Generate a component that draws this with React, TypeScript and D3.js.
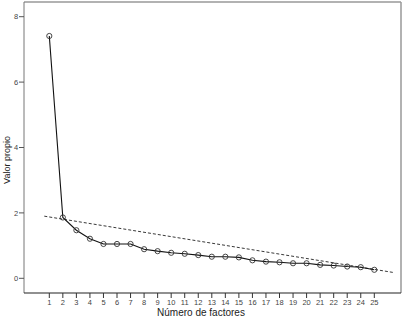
import React from "react";
import * as d3 from "d3";

const factors = d3.range(1, 26);
const eigenvalues = [7.41, 1.86, 1.47, 1.21, 1.05, 1.05, 1.05, 0.89, 0.83, 0.78, 0.75, 0.71, 0.66, 0.66, 0.64, 0.55, 0.51, 0.49, 0.46, 0.46, 0.41, 0.39, 0.36, 0.34, 0.26];
const yTicks = [0, 2, 4, 6, 8];
const trendX = [0.63, 26.38];
const trendY = [1.9, 0.18];

export default function App() {
  const W = 407, H = 319;
  const left = 24, right = 401, top = 2, bottom = 293;
  const x = d3.scaleLinear().domain([1, 25]).range([49.3, 374.3]);
  const y = d3.scaleLinear().domain([0, 8]).range([278.3, 16.7]);
  const line = d3.line<number>().x((_, i) => x(factors[i])).y((d) => y(d));
  const tline = d3.line<number>().x((_, i) => x(trendX[i])).y((d) => y(d));
  const font = "Arial, 'Liberation Sans', sans-serif";
  return (
    <svg width={W} height={H} style={{ position: "absolute", left: 0, top: 0, background: "#fff" }} fontFamily={font}>
      <rect x={0} y={0} width={W} height={H} fill="#fff" />
      <line x1={left} x2={right} y1={top} y2={top} stroke="#999" strokeWidth={1.5} />
      <line x1={right} x2={right} y1={top} y2={bottom} stroke="#999" strokeWidth={1.5} />
      <line x1={left} x2={left} y1={top} y2={bottom} stroke="#777" strokeWidth={1} />
      <line x1={left} x2={right} y1={bottom} y2={bottom} stroke="#222" strokeWidth={1.2} />
      {yTicks.map((t) => (
        <g key={t}>
          <line x1={left - 5} x2={left} y1={y(t)} y2={y(t)} stroke="#555" />
          <text x={16} y={y(t)} dy="0.35em" fontSize={7.5} textAnchor="middle" fill="#444">{t}</text>
        </g>
      ))}
      {factors.map((f) => (
        <g key={f}>
          <line x1={x(f)} x2={x(f)} y1={bottom} y2={bottom + 5} stroke="#333" />
          <text x={x(f)} y={302} dy="0.35em" fontSize={7.5} textAnchor="middle" fill="#444">{f}</text>
        </g>
      ))}
      <path d={tline(trendY) || ""} fill="none" stroke="#222" strokeWidth={0.9} strokeDasharray="3,2" />
      <path d={line(eigenvalues) || ""} fill="none" stroke="#111" strokeWidth={1.1} />
      {eigenvalues.map((v, i) => (
        <circle key={i} cx={x(factors[i])} cy={y(v)} r={2.6} fill="none" stroke="#333" strokeWidth={0.9} />
      ))}
      <text x={201} y={312} dy="0.35em" fontSize={10} textAnchor="middle" fill="#222">Número de factores</text>
      <text transform={`translate(7,160) rotate(-90)`} dy="0.35em" fontSize={9} textAnchor="middle" fill="#222">Valor propio</text>
    </svg>
  );
}
